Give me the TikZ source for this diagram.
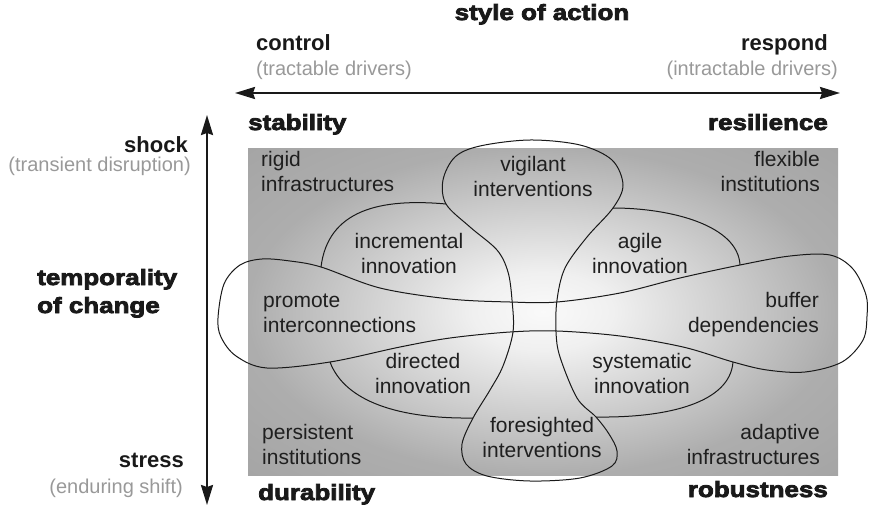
\documentclass[tikz,border=0pt]{standalone}
\usepackage{fontspec}
\setmainfont{Liberation Sans}
\newfontfamily\heavy{Liberation Sans}[FakeStretch=1.18, FakeBold=3.5, BoldFeatures={FakeBold=3.5}]
\usetikzlibrary{arrows.meta}
\pgfdeclareradialshading{panelshade}{\pgfpoint{0bp}{0bp}}{color(0bp)=(black!2); color(6bp)=(black!6); color(25bp)=(black!32); color(50bp)=(black!40)}
\newcommand\twol[2]{\begin{tabular}[t]{@{}#1@{}}#2\end{tabular}}
\begin{document}
\begin{tikzpicture}[x=1pt,y=-1pt,
  inner/.style={inner sep=0pt, text=black!88, font=\fontsize{21}{25}\selectfont},
  paren/.style={inner sep=0pt, text=black!40, font=\fontsize{20}{24}\selectfont},
  boldlab/.style={inner sep=0pt, text=black!90, font=\fontsize{22}{26}\selectfont\bfseries},
  heavylab/.style={inner sep=0pt, text=black!90, font=\heavy\bfseries\fontsize{22}{28}\selectfont},
  axis/.style={line width=2.2pt, draw=black!90, {Stealth[length=20pt,width=12pt,inset=2pt]}-{Stealth[length=20pt,width=12pt,inset=2pt]}},
  outline/.style={line width=1pt, draw=black!90},
]
\useasboundingbox (0,0) rectangle (869,508);

% panel
\shade[shading=panelshade] (248,148) rectangle (838,475);

% axes
\node[heavylab, anchor=base] (soa) at (542,20) {style of action};
\node[boldlab, anchor=base west] (ctl) at (256,51) {control};
\node[paren, anchor=base west] (ctlp) at (256,76) {(tractable drivers)};
\node[boldlab, anchor=base east] (rsp) at (828,51) {respond};
\node[paren, anchor=base east] (rspp) at (838,76) {(intractable drivers)};
\coordinate (hl) at (235,93);
\coordinate (hr) at (840,93);
\draw[axis] (hl) -- (hr);

\node[heavylab, anchor=base west] (stab) at (248,130) {stability};
\node[heavylab, anchor=base east] (resil) at (828,130) {resilience};
\node[heavylab, anchor=base west] (dur) at (258,500) {durability};
\node[heavylab, anchor=base east] (rob) at (828,497) {robustness};

\coordinate (vt) at (207,115);
\coordinate (vb) at (207,505);
\draw[axis] (vt) -- (vb);
\node[boldlab, anchor=base east] (shock) at (188,152) {shock};
\node[paren, anchor=base east] (shockp) at (191,171) {(transient disruption)};
\node[heavylab, anchor=base west] (temp) at (37,285) {\twol{l}{temporality\\of change}};
\node[boldlab, anchor=base east] (stress) at (184,467) {stress};
\node[paren, anchor=base east] (stressp) at (183,493) {(enduring shift)};

% horizontal shape
\draw[outline] plot[smooth cycle, tension=0.55] coordinates {
 (218,318) (224,284) (240,265) (262,259) (290,261) (321,267) (380,288) (450,299)
 (510,302) (557,302) (620,293) (680,278) (740,265) (790,256) (830,255) (853,269)
 (866,295) (867,316) (863,340) (842,362) (805,372) (767,370) (733,362) (683,347)
 (620,336) (557,331) (510,332) (450,338) (400,347) (330,362) (267,368) (236,356) (221,337)};

% vertical shape
\draw[outline] plot[smooth cycle, tension=0.55] coordinates {
 (530,140) (580,145) (612,160) (623,185) (613,208) (587,237) (565,268) (557,300)
 (556,332) (560,357) (577,398) (596,417) (609,434) (617,451) (612,466) (580,478)
 (530,481) (487,476) (466,464) (462,444) (473,418) (490,390) (503,366) (513,332)
 (512,300) (508,272) (497,250) (470,227) (446,204) (443,180) (455,157) (480,146)};

% petal arcs
\draw[outline] (321,267) .. controls (328,210) and (380,198) .. (446,204);
\draw[outline] (613,208) .. controls (670,208) and (738,225) .. (740,265);
\draw[outline] (330,362) .. controls (345,402) and (400,419) .. (473,418);
\draw[outline] (733,362) .. controls (730,402) and (670,418) .. (596,417);

% inner labels
\node[inner, anchor=base west] (rigid) at (261,166) {\twol{l}{rigid\\infrastructures}};
\node[inner, anchor=base east] (flex) at (820,166) {\twol{r}{flexible\\institutions}};
\node[inner, anchor=base] (vig) at (533,171) {\twol{c}{vigilant\\interventions}};
\node[inner, anchor=base] (incr) at (409,248) {\twol{c}{incremental\\innovation}};
\node[inner, anchor=base] (agile) at (640,248) {\twol{c}{agile\\innovation}};
\node[inner, anchor=base west] (prom) at (263,307) {\twol{l}{promote\\interconnections}};
\node[inner, anchor=base east] (buff) at (819,307) {\twol{r}{buffer\\dependencies}};
\node[inner, anchor=base] (dir) at (423,368) {\twol{c}{directed\\innovation}};
\node[inner, anchor=base] (sys) at (642,368) {\twol{c}{systematic\\innovation}};
\node[inner, anchor=base] (fore) at (542,432) {\twol{c}{foresighted\\interventions}};
\node[inner, anchor=base west] (pers) at (262,439) {\twol{l}{persistent\\institutions}};
\node[inner, anchor=base east] (adapt) at (820,439) {\twol{r}{adaptive\\infrastructures}};
\end{tikzpicture}
\end{document}
